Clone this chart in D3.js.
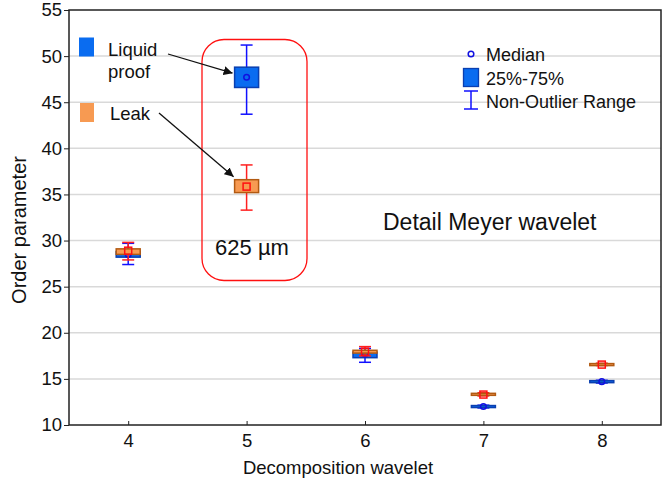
<!DOCTYPE html>
<html><head><meta charset="utf-8">
<script src="https://cdn.jsdelivr.net/npm/d3@7"></script>
<style>
body{margin:0;background:#fff;}
svg{display:block;font-family:"Liberation Sans",Arial,sans-serif;}
</style></head><body>
<svg id="c" width="663" height="483"></svg>
<script>
const categories = [4, 5, 6, 7, 8];
const yTicks = [10, 15, 20, 25, 30, 35, 40, 45, 50, 55];
// Liquid proof series
const liquidMin = [27.4, 43.7, 16.8, 11.85, 14.55];
const liquidQ1  = [28.2, 46.6, 17.3, 11.95, 14.65];
const liquidMed = [28.5, 47.7, 17.7, 12.0, 14.7];
const liquidQ3  = [28.8, 48.8, 17.9, 12.05, 14.75];
const liquidMax = [29.7, 51.2, 18.3, 12.15, 14.85];
// Leak series
const leakMin = [27.9, 33.3, 17.5, 13.15, 16.45];
const leakQ1  = [28.5, 35.2, 17.8, 13.25, 16.5];
const leakMed = [28.9, 35.85, 17.95, 13.3, 16.55];
const leakQ3  = [29.1, 36.6, 18.1, 13.4, 16.6];
const leakMax = [29.8, 38.2, 18.5, 13.5, 16.7];

const svg = d3.select("#c");
const L = 69, R = 661, T = 10, B = 425;
const x = d3.scaleLinear().domain([3.5, 8.5]).range([L, R]);
const y = d3.scaleLinear().domain([10, 55]).range([B, T]);

// grid
svg.append("g").selectAll("line").data(yTicks.filter(d => d > 10 && d < 55)).join("line")
  .attr("x1", L).attr("x2", R).attr("y1", d => y(d)).attr("y2", d => y(d))
  .attr("stroke", "#d9d9d9").attr("stroke-width", 1.5);

// axes
const yAxis = d3.axisLeft(y).tickValues(yTicks).tickSize(5).tickPadding(2);
const gy = svg.append("g").attr("transform", `translate(${L},0)`).call(yAxis);
gy.select(".domain").remove();
gy.selectAll("text").attr("font-size", 18.5).attr("fill", "#111").attr("font-family", "Liberation Sans, Arial, sans-serif");
gy.selectAll("line").attr("stroke", "#222");

const xAxis = d3.axisBottom(x).tickValues(categories).tickSize(-4).tickPadding(9).tickFormat(d3.format("d"));
const gx = svg.append("g").attr("transform", `translate(0,${B})`).call(xAxis);
gx.select(".domain").remove();
gx.selectAll("text").attr("font-size", 18.5).attr("fill", "#111").attr("font-family", "Liberation Sans, Arial, sans-serif");
gx.selectAll("line").attr("stroke", "#222");

// frame
svg.append("rect").attr("x", L).attr("y", T).attr("width", R - L).attr("height", B - T)
  .attr("fill", "none").attr("stroke", "#222").attr("stroke-width", 1.5);

// axis titles
svg.append("text").attr("x", 338).attr("y", 474).attr("text-anchor", "middle")
  .attr("font-size", 18.5).attr("fill", "#111").text("Decomposition wavelet");
svg.append("text").attr("transform", `translate(26,230) rotate(-90)`).attr("text-anchor", "middle")
  .attr("font-size", 20).attr("fill", "#111").text("Order parameter");

// boxes
const boxW = 24, capW = 12;
function drawSeries(mins, q1s, meds, q3s, maxs, sty) {
  const g = svg.append("g");
  categories.forEach((c, i) => {
    const cx = x(c);
    g.append("line").attr("x1", cx).attr("x2", cx).attr("y1", y(mins[i])).attr("y2", y(maxs[i]))
      .attr("stroke", sty.whisker).attr("stroke-width", 1.5);
    [mins[i], maxs[i]].forEach(v => g.append("line").attr("x1", cx - capW / 2).attr("x2", cx + capW / 2)
      .attr("y1", y(v)).attr("y2", y(v)).attr("stroke", sty.whisker).attr("stroke-width", 1.5));
    const h = Math.max(2, y(q1s[i]) - y(q3s[i]));
    g.append("rect").attr("x", cx - boxW / 2).attr("y", (y(q1s[i]) + y(q3s[i])) / 2 - h / 2)
      .attr("width", boxW).attr("height", h).attr("fill", sty.fill).attr("stroke", sty.stroke).attr("stroke-width", 1.5);
    if (sty.med === "circle") {
      g.append("circle").attr("cx", cx).attr("cy", y(meds[i])).attr("r", 2.8)
        .attr("fill", "none").attr("stroke", sty.medColor).attr("stroke-width", 1.5);
    } else {
      g.append("rect").attr("x", cx - 3.5).attr("y", y(meds[i]) - 3.5).attr("width", 7).attr("height", 7)
        .attr("fill", "none").attr("stroke", sty.medColor).attr("stroke-width", 1.5);
    }
  });
}
const blueSty = {whisker: "#1010ff", fill: "#0a6cf0", stroke: "#0a3fb0", med: "circle", medColor: "#1010e0"};
const orangeSty = {whisker: "#ff2020", fill: "#f79a52", stroke: "#b25a12", med: "square", medColor: "#ff1010"};
drawSeries(liquidMin, liquidQ1, liquidMed, liquidQ3, liquidMax, blueSty);
drawSeries(leakMin, leakQ1, leakMed, leakQ3, leakMax, orangeSty);

// red rounded highlight
svg.append("rect").attr("x", 202).attr("y", 39.5).attr("width", 105).attr("height", 241)
  .attr("rx", 22).attr("ry", 22).attr("fill", "none").attr("stroke", "#ff1010").attr("stroke-width", 1.3);
svg.append("text").attr("x", 252).attr("y", 255).attr("text-anchor", "middle")
  .attr("font-size", 22).attr("fill", "#111").text("625 µm");

// left legend
svg.append("rect").attr("x", 79).attr("y", 37.5).attr("width", 15).attr("height", 19).attr("fill", "#0a6cf0");
svg.append("text").attr("x", 108).attr("y", 56).attr("font-size", 18.5).attr("fill", "#111").text("Liquid");
svg.append("text").attr("x", 108).attr("y", 78).attr("font-size", 18.5).attr("fill", "#111").text("proof");
svg.append("rect").attr("x", 80).attr("y", 103).attr("width", 14).attr("height", 19).attr("fill", "#f79a52");
svg.append("text").attr("x", 110).attr("y", 120).attr("font-size", 18.5).attr("fill", "#111").text("Leak");

// arrows
const defs = svg.append("defs");
defs.append("marker").attr("id", "ah").attr("viewBox", "0 0 10 10").attr("refX", 10).attr("refY", 5)
  .attr("markerWidth", 9).attr("markerHeight", 9).attr("orient", "auto-start-reverse").attr("markerUnits", "userSpaceOnUse")
  .append("path").attr("d", "M0,0 L10,5 L0,10 z").attr("fill", "#111");
svg.append("line").attr("x1", 168).attr("y1", 54).attr("x2", x(5) - boxW / 2 - 2).attr("y2", y(liquidQ3[1]) + 6)
  .attr("stroke", "#111").attr("stroke-width", 1.3).attr("marker-end", "url(#ah)");
svg.append("line").attr("x1", 159).attr("y1", 113).attr("x2", x(5) - boxW / 2 - 1).attr("y2", y(leakQ3[1]) - 3)
  .attr("stroke", "#111").attr("stroke-width", 1.3).attr("marker-end", "url(#ah)");

// right legend
const lx = 471;
svg.append("circle").attr("cx", lx).attr("cy", 54).attr("r", 2.8).attr("fill", "none").attr("stroke", "#1010e0").attr("stroke-width", 1.5);
svg.append("text").attr("x", 486).attr("y", 60.5).attr("font-size", 18).attr("fill", "#111").text("Median");
svg.append("rect").attr("x", 463.5).attr("y", 68.5).attr("width", 15).attr("height", 18).attr("fill", "#0a6cf0").attr("stroke", "#0a3fb0").attr("stroke-width", 1.3);
svg.append("text").attr("x", 486).attr("y", 84.5).attr("font-size", 18).attr("fill", "#111").text("25%-75%");
svg.append("line").attr("x1", lx).attr("x2", lx).attr("y1", 91).attr("y2", 109).attr("stroke", "#1010ff").attr("stroke-width", 1.5);
[91, 109].forEach(v => svg.append("line").attr("x1", 464).attr("x2", 478).attr("y1", v).attr("y2", v).attr("stroke", "#1010ff").attr("stroke-width", 1.5));
svg.append("text").attr("x", 486).attr("y", 107.5).attr("font-size", 18).attr("fill", "#111").text("Non-Outlier Range");

svg.append("text").attr("x", 383).attr("y", 230).attr("font-size", 23).attr("fill", "#111").text("Detail Meyer wavelet");
</script>
</body></html>
